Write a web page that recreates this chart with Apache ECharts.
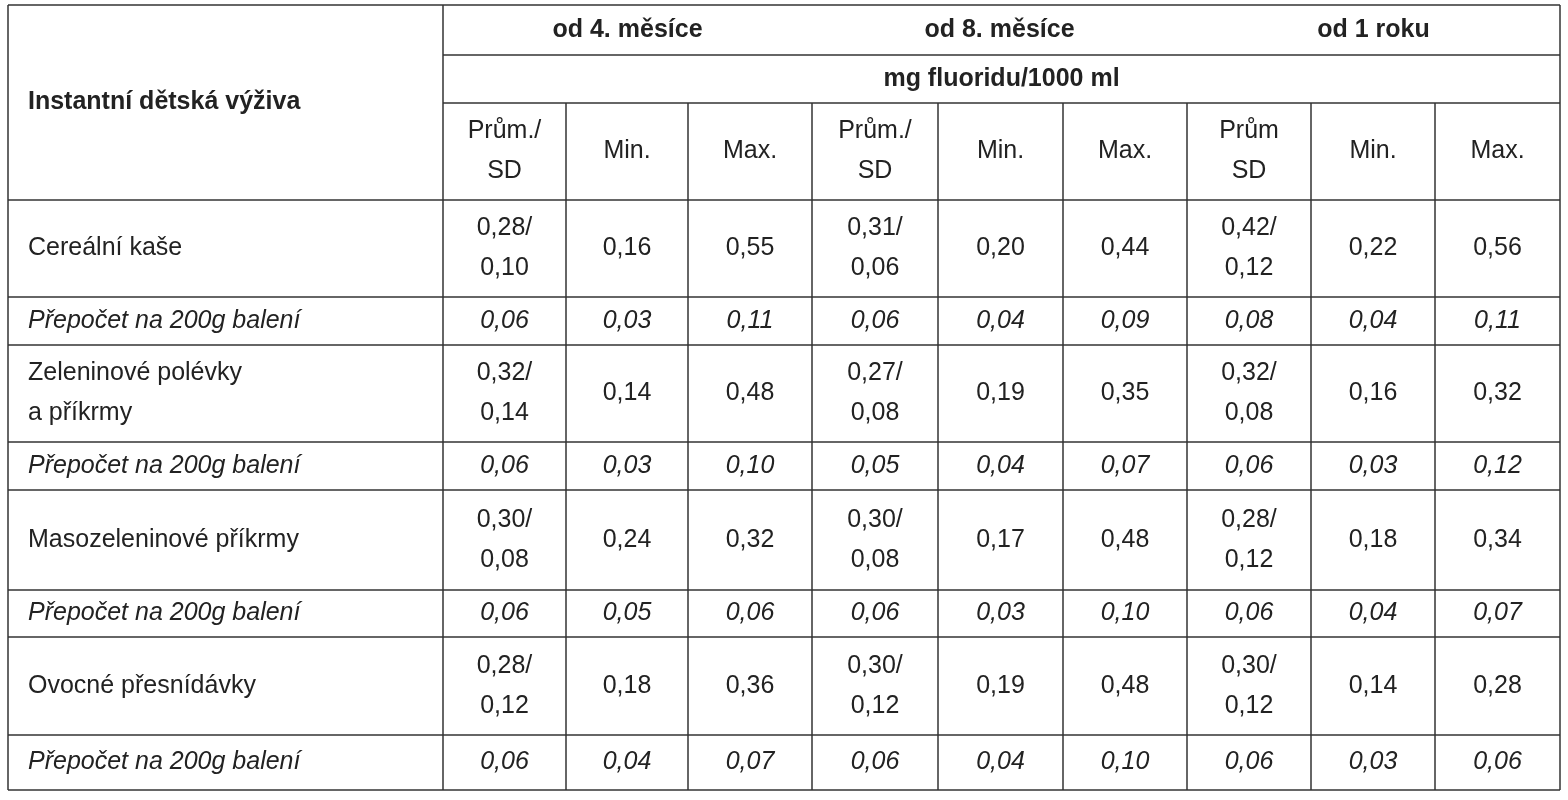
<!DOCTYPE html>
<html><head><meta charset="utf-8">
<script src="https://cdn.jsdelivr.net/npm/echarts@6/dist/echarts.min.js"></script>
<style>html,body{margin:0;padding:0;background:#fff}#c{width:1568px;height:800px}</style>
</head><body><div id="c"></div>
<script>
// ---- data ----
const cornerTitle = "Instantní dětská výživa";
const ageGroups = ["od 4. měsíce", "od 8. měsíce", "od 1 roku"];
const unitLabel = "mg fluoridu/1000 ml";
const statLabels = ["Prům./\nSD","Min.","Max.","Prům./\nSD","Min.","Max.","Prům\nSD","Min.","Max."];
const rowLabels = ["Cereální kaše","Přepočet na 200g balení","Zeleninové polévky\na příkrmy","Přepočet na 200g balení","Masozeleninové příkrmy","Přepočet na 200g balení","Ovocné přesnídávky","Přepočet na 200g balení"];
const row1 = ["0,28/\n0,10","0,16","0,55","0,31/\n0,06","0,20","0,44","0,42/\n0,12","0,22","0,56"];
const row2 = ["0,06","0,03","0,11","0,06","0,04","0,09","0,08","0,04","0,11"];
const row3 = ["0,32/\n0,14","0,14","0,48","0,27/\n0,08","0,19","0,35","0,32/\n0,08","0,16","0,32"];
const row4 = ["0,06","0,03","0,10","0,05","0,04","0,07","0,06","0,03","0,12"];
const row5 = ["0,30/\n0,08","0,24","0,32","0,30/\n0,08","0,17","0,48","0,28/\n0,12","0,18","0,34"];
const row6 = ["0,06","0,05","0,06","0,06","0,03","0,10","0,06","0,04","0,07"];
const row7 = ["0,28/\n0,12","0,18","0,36","0,30/\n0,12","0,19","0,48","0,30/\n0,12","0,14","0,28"];
const row8 = ["0,06","0,04","0,07","0,06","0,04","0,10","0,06","0,03","0,06"];
const bodyRows = [row1,row2,row3,row4,row5,row6,row7,row8];

// ---- layout ----
const colX = [8,443,566,688,812,938,1063,1187,1311,1435,1560];
const headY = [5,55,103,200];
const rowY = [200,297,345,442,490,590,637,735,790];

const cells = []; // [x0,y0,x1,y1,text,kind]
cells.push([colX[0],headY[0],colX[1],headY[3],cornerTitle,'hl']);
ageGroups.forEach((g,i)=>cells.push([colX[1+3*i],headY[0],colX[4+3*i],headY[1],g,'hb']));
cells.push([colX[1],headY[1],colX[10],headY[2],unitLabel,'hb']);
statLabels.forEach((s,i)=>cells.push([colX[1+i],headY[2],colX[2+i],headY[3],s,'h']));
bodyRows.forEach((r,ri)=>{
  const it = ri%2===1;
  cells.push([colX[0],rowY[ri],colX[1],rowY[ri+1],rowLabels[ri],it?'li':'l']);
  r.forEach((v,ci)=>cells.push([colX[1+ci],rowY[ri],colX[2+ci],rowY[ri+1],v,it?'ci':'c']));
});

const lines = [];
lines.push([colX[0],headY[0],colX[10],headY[0]]);
lines.push([colX[1],headY[1],colX[10],headY[1]]);
lines.push([colX[1],headY[2],colX[10],headY[2]]);
rowY.forEach(y=>lines.push([colX[0],y,colX[10],y]));
lines.push([colX[0],headY[0],colX[0],rowY[8]]);
lines.push([colX[10],headY[0],colX[10],rowY[8]]);
lines.push([colX[1],headY[0],colX[1],rowY[8]]);
for(let i=2;i<10;i++) lines.push([colX[i],headY[2],colX[i],rowY[8]]);

const chart = echarts.init(document.getElementById('c'));
const FONT = "'Liberation Sans', 'DejaVu Sans', sans-serif";
chart.setOption({
  animation:false,
  grid:{left:0,right:0,top:0,bottom:0},
  xAxis:{type:'value',min:0,max:1568,show:false},
  yAxis:{type:'value',min:0,max:800,inverse:true,show:false},
  series:[
    {type:'custom',data:cells,renderItem:(p,api)=>{
      const c = cells[p.dataIndex];
      const a = api.coord([c[0],c[1]]), b = api.coord([c[2],c[3]]);
      const kind = c[5];
      const left = kind[0]==='l' || kind==='hl';
      const x = left ? a[0]+20 : (a[0]+b[0])/2;
      return {type:'text',style:{
        text:c[4], x:x, y:(a[1]+b[1])/2,
        align:left?'left':'center', verticalAlign:'middle',
        font:(kind.endsWith('i')?'italic ':'')+(kind[0]==='h'&&kind!=='h'?'bold ':'')+'25px '+FONT,
        lineHeight:40, fill:'#222'}};
    }},
    {type:'custom',data:lines,renderItem:(p,api)=>{
      const l = lines[p.dataIndex];
      const a = api.coord([l[0],l[1]]), b = api.coord([l[2],l[3]]);
      return {type:'line',shape:{x1:a[0],y1:a[1],x2:b[0],y2:b[1]},style:{stroke:'#333',lineWidth:1.5}};
    }}
  ]
});
</script></body></html>
